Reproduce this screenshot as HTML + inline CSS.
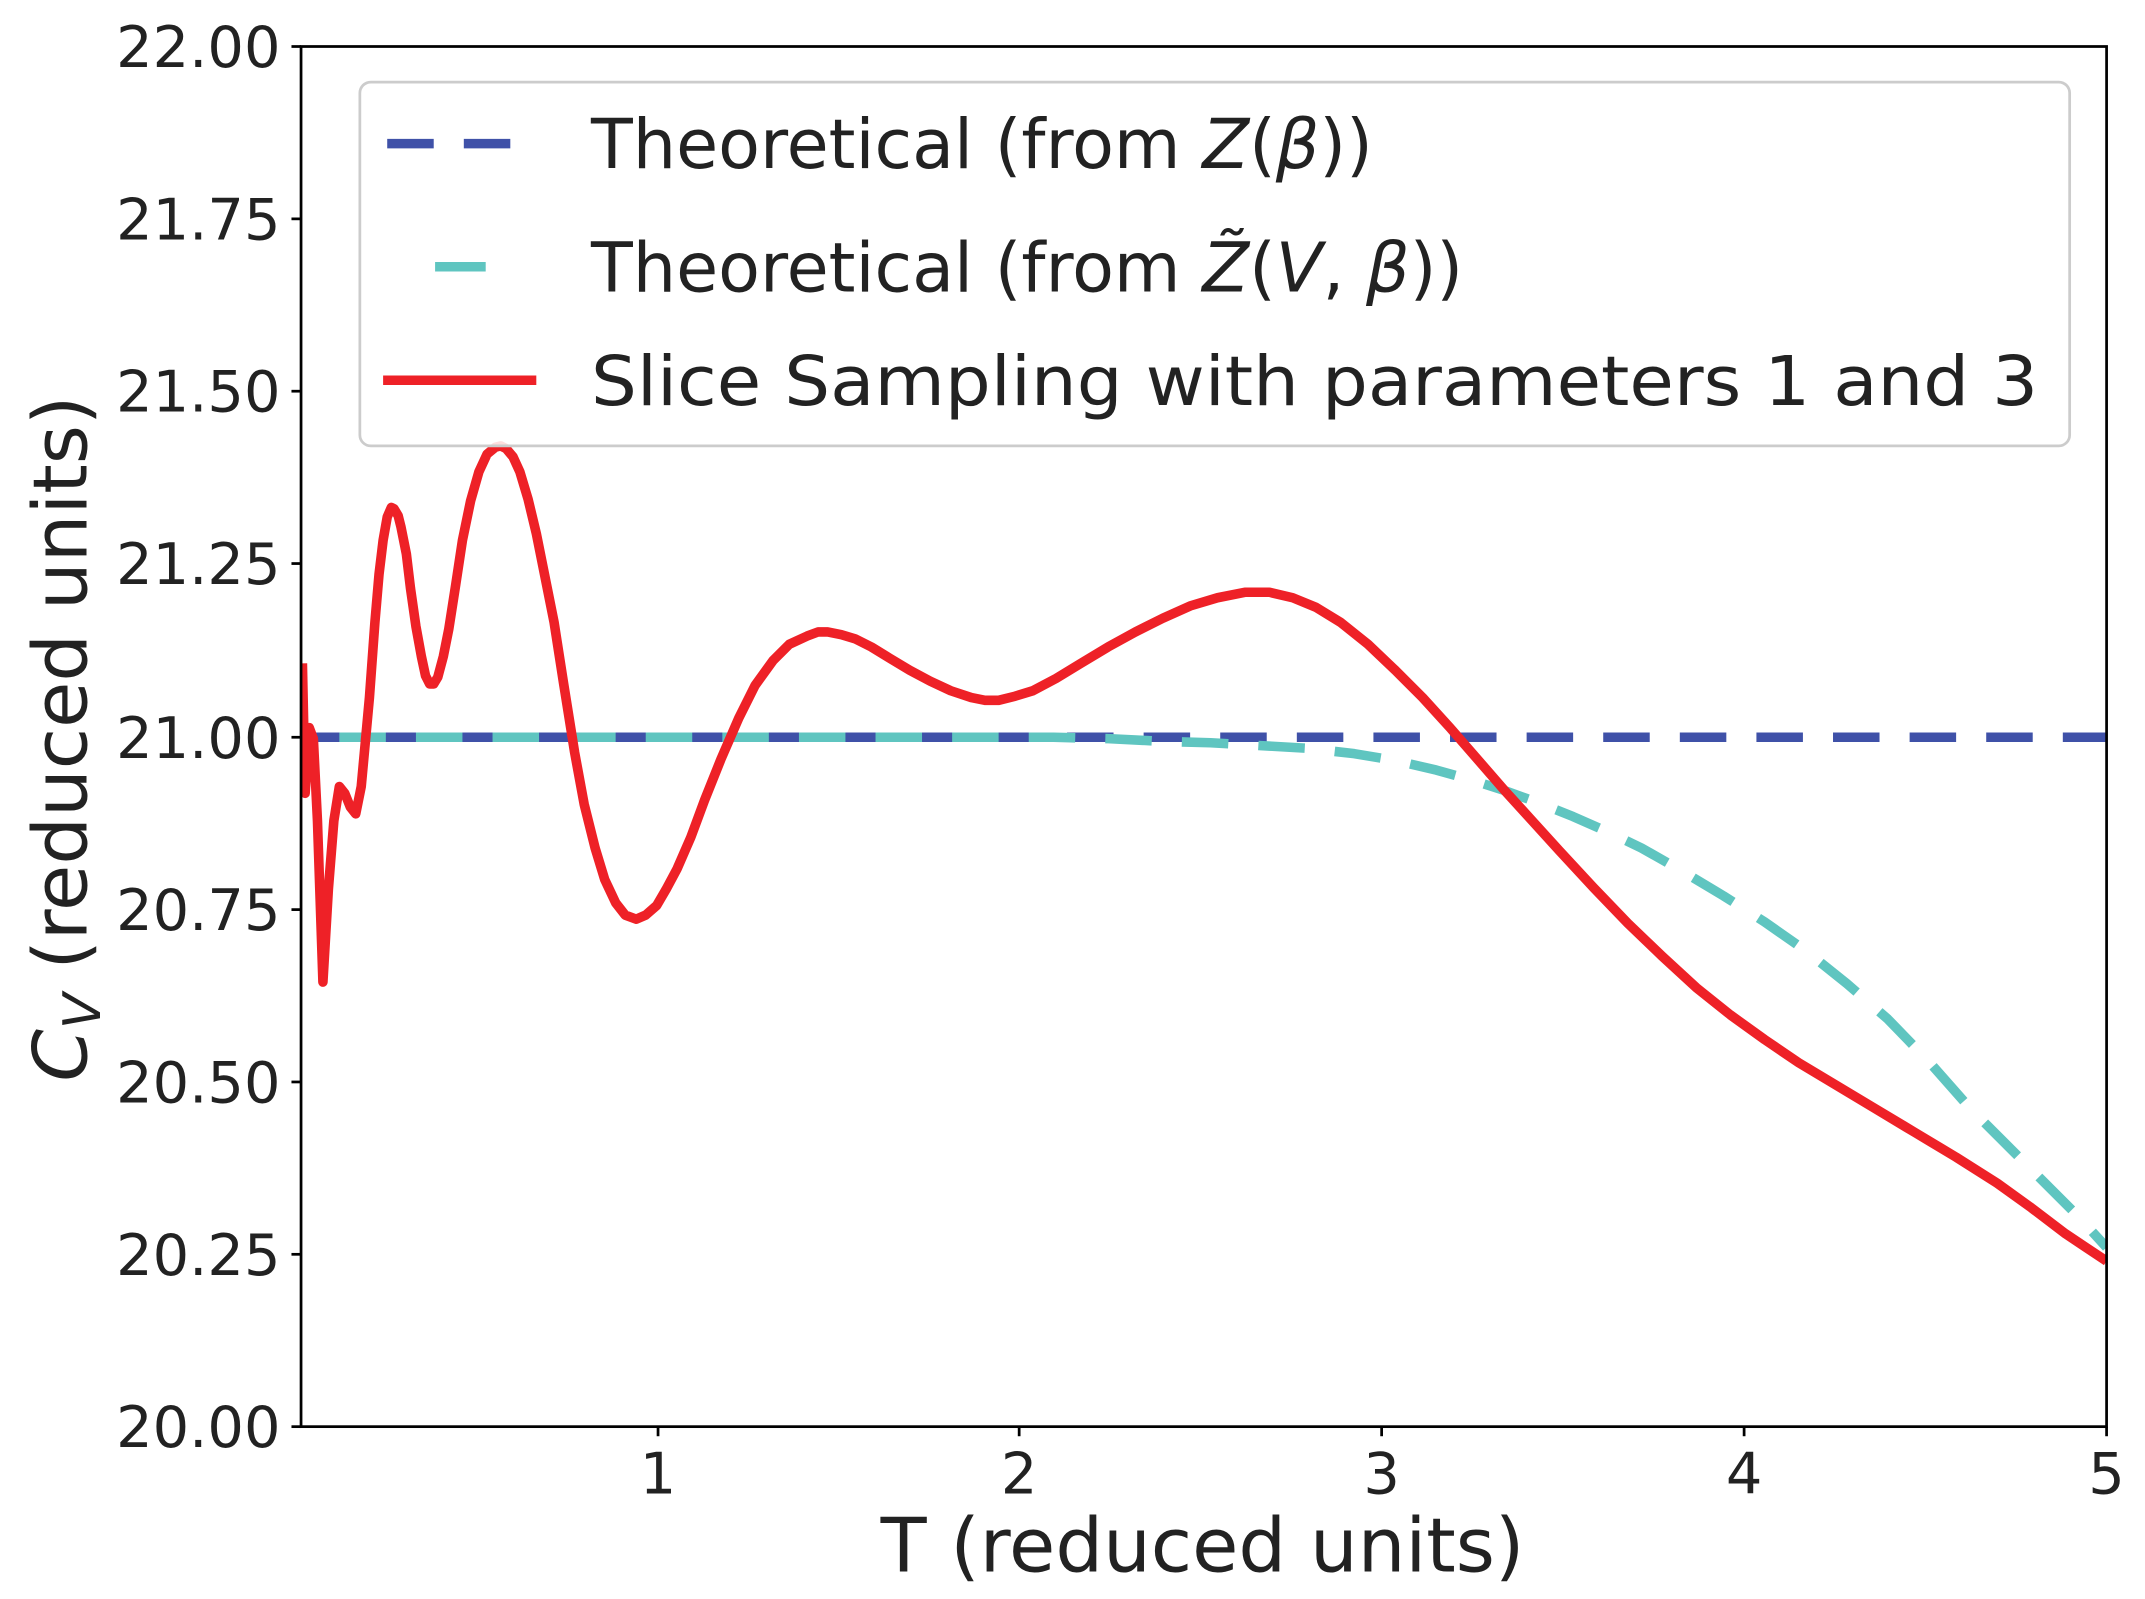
<!DOCTYPE html>
<html><head><meta charset="utf-8"><style>html,body{margin:0;padding:0;background:#fff}svg{display:block}text{font-family:"DejaVu Sans","Liberation Sans",sans-serif;fill:#222}</style></head>
<body>
<svg width="2145" height="1599" viewBox="0 0 1568 1169" xmlns="http://www.w3.org/2000/svg">
<defs><clipPath id="c"><rect x="220" y="34" width="1320" height="1009"/></clipPath></defs>
<g clip-path="url(#c)" fill="none" stroke-linejoin="round" stroke-linecap="butt">
<line x1="220" y1="539" x2="1540" y2="539" stroke="#3f51a8" stroke-width="7" stroke-dasharray="34,22"/>
<polyline stroke="#5fc5c0" stroke-width="7" stroke-dasharray="34,22" stroke-dashoffset="-28" points="220,539 770,539 810,540 850,542 885,543 920,545 955,547 990,551 1020,556 1050,563 1075,570 1100,578 1125,587 1150,597 1175,608 1200,620 1230,637 1260,655 1290,674 1320,695 1350,719 1380,745 1410,776 1440,810 1470,840 1500,870 1520,890 1540,912"/>
<polyline stroke="#ee2127" stroke-width="7" points="221,485 223,580 226,532 229,540 232,600 236,718 240,650 244,600 248,575 252,580 256,590 260,595 264,575 270,510 274,455 277,420 280,395 283,378 286,371 288,372 291,377 293,385 297,405 300,430 304,458 308,480 311,494 314,500 317,500 320,495 324,480 328,460 333,428 338,395 344,366 350,345 356,332 362,327 366,326 370,328 375,334 380,345 386,365 392,390 398,420 405,455 412,500 420,550 427,588 435,620 442,643 450,660 457,669 465,672 472,669 480,662 487,650 495,635 505,612 515,585 527,555 540,525 552,501 565,483 577,471 590,465 598,462 605,462 615,464 625,467 637,473 650,481 665,490 680,498 695,505 710,510 720,512 730,512 742,509 755,505 772,496 790,485 810,473 830,462 850,452 870,443 890,437 910,433 928,433 945,437 962,444 980,455 1000,471 1020,490 1040,510 1060,532 1080,555 1100,578 1120,600 1140,622 1165,649 1190,675 1215,699 1240,722 1265,742 1290,760 1315,777 1340,792 1370,810 1400,828 1430,846 1460,865 1485,883 1510,902 1525,912 1540,922"/>
</g>
<rect x="220" y="34" width="1320" height="1009" fill="none" stroke="#000" stroke-width="2"/>
<g stroke="#000" stroke-width="2">
<line x1="213" y1="34" x2="220" y2="34"/><line x1="213" y1="160" x2="220" y2="160"/><line x1="213" y1="286" x2="220" y2="286"/><line x1="213" y1="412" x2="220" y2="412"/><line x1="213" y1="539" x2="220" y2="539"/><line x1="213" y1="665" x2="220" y2="665"/><line x1="213" y1="791" x2="220" y2="791"/><line x1="213" y1="917" x2="220" y2="917"/><line x1="213" y1="1043" x2="220" y2="1043"/>
<line x1="481" y1="1043" x2="481" y2="1050"/><line x1="745" y1="1043" x2="745" y2="1050"/><line x1="1010" y1="1043" x2="1010" y2="1050"/><line x1="1275" y1="1043" x2="1275" y2="1050"/><line x1="1540" y1="1043" x2="1540" y2="1050"/>
</g>
<g font-size="42" text-anchor="end">
<text x="205" y="49">22.00</text><text x="205" y="175">21.75</text><text x="205" y="301">21.50</text><text x="205" y="427">21.25</text><text x="205" y="554">21.00</text><text x="205" y="680">20.75</text><text x="205" y="806">20.50</text><text x="205" y="932">20.25</text><text x="205" y="1058">20.00</text>
</g>
<g font-size="42" text-anchor="middle">
<text x="481" y="1092">1</text><text x="745" y="1092">2</text><text x="1010" y="1092">3</text><text x="1275" y="1092">4</text><text x="1540" y="1092">5</text>
</g>
<text x="879" y="1149" font-size="55" text-anchor="middle">T (reduced units)</text>
<text transform="translate(63,540) rotate(-90)" font-size="55" text-anchor="middle"><tspan font-style="italic">C</tspan><tspan font-size="38" font-style="italic" dy="10">V</tspan><tspan dy="-10"> (reduced units)</tspan></text>
<rect x="263" y="60" width="1250" height="266" rx="8" fill="#fff" fill-opacity="0.85" stroke="#ccc" stroke-width="2"/>
<line x1="283" y1="105" x2="390" y2="105" stroke="#3f51a8" stroke-width="7" stroke-dasharray="34,22"/>
<line x1="318" y1="195" x2="355" y2="195" stroke="#5fc5c0" stroke-width="7"/>
<line x1="280" y1="278" x2="392" y2="278" stroke="#ee2127" stroke-width="7"/>
<g font-size="50">
<text x="432" y="123">Theoretical (from <tspan font-style="italic">Z</tspan>(<tspan font-style="italic">β</tspan>))</text>
<text x="432" y="213">Theoretical (from <tspan font-style="italic">Z̃</tspan>(<tspan font-style="italic">V</tspan>, <tspan font-style="italic">β</tspan>))</text>
<text x="432" y="296" textLength="1058" lengthAdjust="spacingAndGlyphs">Slice Sampling with parameters 1 and 3</text>
</g>
</svg>
</body></html>
